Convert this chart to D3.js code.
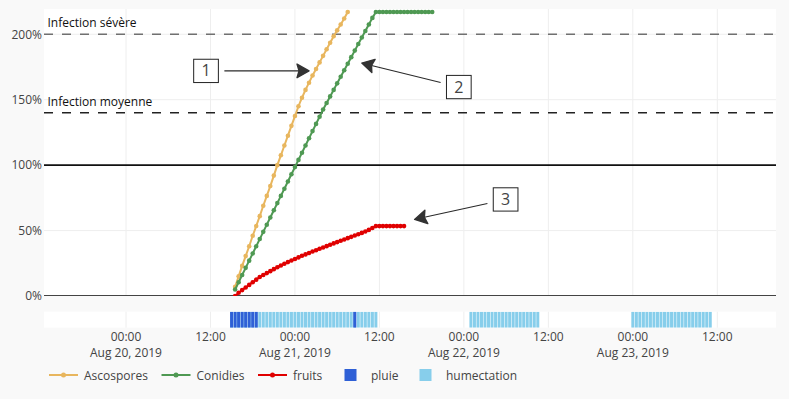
<!DOCTYPE html>
<html>
<head>
<meta charset="utf-8">
<script src="https://cdn.jsdelivr.net/npm/d3@7"></script>
<style>
  body { margin: 0; background: #f9f9f9; }
  svg { display: block; font-family: "Open Sans", sans-serif; }
</style>
</head>
<body>
<svg id="chart" width="789" height="399"></svg>
<script>
// all times are hours since Aug 20, 2019 00:00 ; series sampled every 30 minutes
const t0 = new Date(2019, 7, 20, 0, 0)
const stepH = 0.5

const ascosporesStart = 15.5
const ascospores = [7, 15, 23, 30.5, 38, 46, 53.5, 61, 69, 76.5,
  84, 92, 100, 107.5, 115, 122.5, 130, 137.5, 145, 151.5,
  157.5, 163, 168.5, 173.5, 178.5, 183.5, 188.5, 193.5, 198.5, 203,
  207.5, 212, 217]

const conidiesStart = 15.5
const conidies = [5, 10.5, 16, 21.5, 27, 32.5, 38, 43.5, 49, 54.5,
  60, 65.5, 71, 76.5, 82, 87.5, 93, 98.5, 104, 109.5,
  115, 120.5, 126, 131.5, 137, 142.5, 147.5, 152.5, 157.5, 162.5,
  167.5, 172.5, 177.5, 182.5, 187.5, 192.5, 197.5, 202.5, 207.5, 212.5,
  217, 217, 217, 217, 217, 217, 217, 217, 217, 217,
  217, 217, 217, 217, 217, 217, 217]

const fruitsStart = 15.5
const fruits = [0, 2.5, 4.5, 6.5, 8.5, 10.5, 12.5, 14.5, 16, 17.5,
  19, 20.5, 22, 23.3, 24.6, 25.9, 27.1, 28.3, 29.5, 30.7,
  31.8, 32.9, 34, 35, 36.1, 37.1, 38.1, 39.2, 40.2, 41.2,
  42.2, 43.2, 44.2, 45.2, 46.2, 47.2, 48.2, 49.3, 50.5, 52,
  53.4, 53.4, 53.4, 53.4, 53.4, 53.4, 53.4, 53.4, 53.4]

// half-hour slots with leaf wetness / rain
const humectation = [15, 15.5, 16, 16.5, 17, 17.5, 18, 18.5, 19, 19.5,
  20, 20.5, 21, 21.5, 22, 22.5, 23, 23.5, 24, 24.5,
  25, 25.5, 26, 26.5, 27, 27.5, 28, 28.5, 29, 29.5,
  30, 30.5, 31, 31.5, 32, 32.5, 33, 33.5, 34, 34.5, 35, 35.5,
  49, 49.5, 50, 50.5, 51, 51.5, 52, 52.5, 53, 53.5,
  54, 54.5, 55, 55.5, 56, 56.5, 57, 57.5, 58, 58.5,
  72, 72.5, 73, 73.5, 74, 74.5, 75, 75.5, 76, 76.5, 77, 77.5,
  78, 78.5, 79, 79.5, 80, 80.5, 81, 81.5, 82, 82.5, 83]
const pluie = [15, 15.5, 16, 16.5, 17, 17.5, 18, 18.5, 32.5]

const yTicks = [0, 50, 100, 150, 200]
const thresholds = [
  { label: "Infection sévère", value: 200, color: "#707070" },
  { label: "Infection moyenne", value: 140, color: "#222" }
]
const annotations = [
  { text: "1", t: 26, v: 172, ax: -103, ay: 0 },
  { text: "2", t: 33.5, v: 178, ax: 97, ay: 24 },
  { text: "3", t: 41, v: 58.5, ax: 91, ay: -20 }
]

const hour = h => new Date(t0.getTime() + h * 3600e3)
const toPoints = (start, values) => values.map((v, i) => ({ date: hour(start + i * stepH), value: v }))

const series = [
  { name: "Ascospores", color: "#e8b65e", points: toPoints(ascosporesStart, ascospores) },
  { name: "Conidies", color: "#4f9953", points: toPoints(conidiesStart, conidies) },
  { name: "fruits", color: "#e00000", points: toPoints(fruitsStart, fruits) }
]

const plot = { left: 44, right: 776, top: 9, bottom: 296 }
const strip = { top: 311.7, bottom: 327.7 }

const svg = d3.select('#chart')

const x = d3.scaleTime()
  .domain([hour(-11.65), hour(92.34)])
  .range([plot.left, plot.right])
const y = d3.scaleLinear()
  .domain([0, 219.3])
  .range([plot.bottom, plot.top])
const yBar = d3.scaleLinear().domain([0, 1]).range([strip.bottom, strip.top])

// backgrounds
svg.append('rect').attr('x', plot.left).attr('y', plot.top)
  .attr('width', plot.right - plot.left).attr('height', plot.bottom - plot.top).attr('fill', '#fff')
svg.append('rect').attr('x', plot.left).attr('y', strip.top)
  .attr('width', plot.right - plot.left).attr('height', strip.bottom - strip.top).attr('fill', '#fff')

const defs = svg.append('defs')
defs.append('clipPath').attr('id', 'clipPlot').append('rect')
  .attr('x', plot.left).attr('y', plot.top)
  .attr('width', plot.right - plot.left).attr('height', plot.bottom - plot.top)
defs.append('clipPath').attr('id', 'clipStrip').append('rect')
  .attr('x', plot.left).attr('y', strip.top)
  .attr('width', plot.right - plot.left).attr('height', strip.bottom - strip.top)

// grid
const xTicks = x.ticks(d3.timeHour.every(12))
svg.append('g').selectAll('line').data(xTicks).join('line')
  .attr('x1', d => x(d)).attr('x2', d => x(d))
  .attr('y1', plot.top).attr('y2', plot.bottom)
  .attr('stroke', '#eee')
svg.append('g').selectAll('line').data(xTicks).join('line')
  .attr('x1', d => x(d)).attr('x2', d => x(d))
  .attr('y1', strip.top).attr('y2', strip.bottom)
  .attr('stroke', '#eee')
svg.append('g').selectAll('line').data(yTicks.filter(d => d !== 0 && d !== 100)).join('line')
  .attr('x1', plot.left).attr('x2', plot.right)
  .attr('y1', d => y(d)).attr('y2', d => y(d))
  .attr('stroke', '#eee')

// y axis
const yAxis = svg.append('g')
  .attr('transform', 'translate(' + plot.left + ',0)')
  .call(d3.axisLeft(y).tickValues(yTicks).tickFormat(d => d + '%').tickSize(0).tickPadding(2))
yAxis.select('.domain').remove()
yAxis.selectAll('text').attr('font-size', 12).attr('fill', '#444').attr('font-family', '"Open Sans", sans-serif')

// x axis labels (time + date on midnight)
const fmtTime = d3.timeFormat('%H:%M')
const fmtDate = d3.timeFormat('%b %-d, %Y')
const xLab = svg.append('g').selectAll('text').data(xTicks).join('text')
  .attr('x', d => x(d)).attr('y', 341)
  .attr('text-anchor', 'middle').attr('font-size', 12).attr('fill', '#444')
xLab.append('tspan').text(d => fmtTime(d))
xLab.filter(d => d.getHours() === 0).append('tspan')
  .attr('x', d => x(d)).attr('dy', 16).text(d => fmtDate(d))

// bars
const barW = (x(hour(stepH)) - x(hour(0))) * 0.85
const bars = svg.append('g').attr('clip-path', 'url(#clipStrip)')
bars.selectAll('rect.hum').data(humectation).join('rect')
  .attr('class', 'hum')
  .attr('x', d => x(hour(d)) - barW / 2).attr('width', barW)
  .attr('y', yBar(1)).attr('height', yBar(0) - yBar(1))
  .attr('fill', '#87ceeb')
bars.selectAll('rect.rain').data(pluie).join('rect')
  .attr('class', 'rain')
  .attr('x', d => x(hour(d)) - barW / 2).attr('width', barW)
  .attr('y', yBar(1)).attr('height', yBar(0) - yBar(1))
  .attr('fill', '#2f60d6')

// reference lines
svg.append('line').attr('x1', plot.left).attr('x2', plot.right)
  .attr('y1', y(0) - 0.5).attr('y2', y(0) - 0.5).attr('stroke', '#444').attr('stroke-width', 1)
svg.append('line').attr('x1', plot.left).attr('x2', plot.right)
  .attr('y1', y(100)).attr('y2', y(100)).attr('stroke', '#111').attr('stroke-width', 1.6)

const th = svg.append('g').selectAll('g').data(thresholds).join('g')
th.append('line')
  .attr('x1', plot.left).attr('x2', plot.right)
  .attr('y1', d => y(d.value)).attr('y2', d => y(d.value))
  .attr('stroke', d => d.color).attr('stroke-width', 1.5).attr('stroke-dasharray', '9,9')
th.append('text')
  .attr('x', 47.5).attr('y', d => y(d.value) - 7)
  .attr('font-size', 12).attr('fill', '#111')
  .text(d => d.label)

// series
const line = d3.line().x(d => x(d.date)).y(d => y(d.value))
const gs = svg.append('g').attr('clip-path', 'url(#clipPlot)')
  .selectAll('g').data(series).join('g')
gs.append('path')
  .attr('d', d => line(d.points))
  .attr('fill', 'none').attr('stroke', d => d.color).attr('stroke-width', 2)
gs.each(function (s) {
  d3.select(this).selectAll('circle').data(s.points).join('circle')
    .attr('cx', d => x(d.date)).attr('cy', d => y(d.value)).attr('r', 2.3)
    .attr('fill', s.color)
})

// annotations
const ann = svg.append('g').selectAll('g').data(annotations).join('g')
ann.each(function (a) {
  const g = d3.select(this)
  const tx = x(hour(a.t)), ty = y(a.v)
  const cx = tx + a.ax, cy = ty + a.ay
  const len = Math.hypot(a.ax, a.ay)
  const ux = -a.ax / len, uy = -a.ay / len   // direction centre -> tip
  const bw = 24.7, bh = 23.3
  const tEdge = Math.min(Math.abs(ux) > 1e-6 ? (bw / 2) / Math.abs(ux) : Infinity,
                         Math.abs(uy) > 1e-6 ? (bh / 2) / Math.abs(uy) : Infinity)
  const s0 = tEdge + 6
  g.append('line')
    .attr('x1', cx + ux * s0).attr('y1', cy + uy * s0)
    .attr('x2', tx - ux * 10).attr('y2', ty - uy * 10)
    .attr('stroke', '#2a2a2a').attr('stroke-width', 1.1)
  const ang = Math.atan2(uy, ux) * 180 / Math.PI
  g.append('path')
    .attr('d', 'M0,0L-12,-6.8L-10,0L-12,6.8Z')
    .attr('transform', 'translate(' + tx + ',' + ty + ') rotate(' + ang + ')')
    .attr('fill', '#333').attr('stroke', '#333').attr('stroke-width', 1.4)
    .attr('stroke-linejoin', 'round')
  g.append('rect')
    .attr('x', cx - bw / 2).attr('y', cy - bh / 2).attr('width', bw).attr('height', bh)
    .attr('fill', '#fff').attr('stroke', '#222').attr('stroke-width', 1)
  g.append('text')
    .attr('x', cx).attr('y', cy + 5.5).attr('text-anchor', 'middle')
    .attr('font-size', 16).attr('fill', '#444').text(a.text)
})

// legend
const legendY = 375
const legendItems = [
  { name: 'Ascospores', type: 'line', color: series[0].color, x0: 49 },
  { name: 'Conidies', type: 'line', color: series[1].color, x0: 161.5 },
  { name: 'fruits', type: 'line', color: series[2].color, x0: 258 },
  { name: 'pluie', type: 'bar', color: '#2f60d6', x0: 335 },
  { name: 'humectation', type: 'bar', color: '#87ceeb', x0: 410 }
]
const lg = svg.append('g').selectAll('g').data(legendItems).join('g')
  .attr('transform', d => 'translate(' + d.x0 + ',' + legendY + ')')
lg.filter(d => d.type === 'line').append('line')
  .attr('x1', 0).attr('x2', 29).attr('stroke', d => d.color).attr('stroke-width', 2)
lg.filter(d => d.type === 'line').append('circle')
  .attr('cx', 14.5).attr('r', 2.5).attr('fill', d => d.color)
lg.filter(d => d.type === 'bar').append('rect')
  .attr('x', 9.5).attr('y', -6).attr('width', 12).attr('height', 12).attr('fill', d => d.color)
lg.append('text')
  .attr('x', d => d.type === 'bar' ? 36 : 35).attr('y', 4.5).attr('font-size', 12).attr('fill', '#444')
  .text(d => d.name)
</script>
</body>
</html>
